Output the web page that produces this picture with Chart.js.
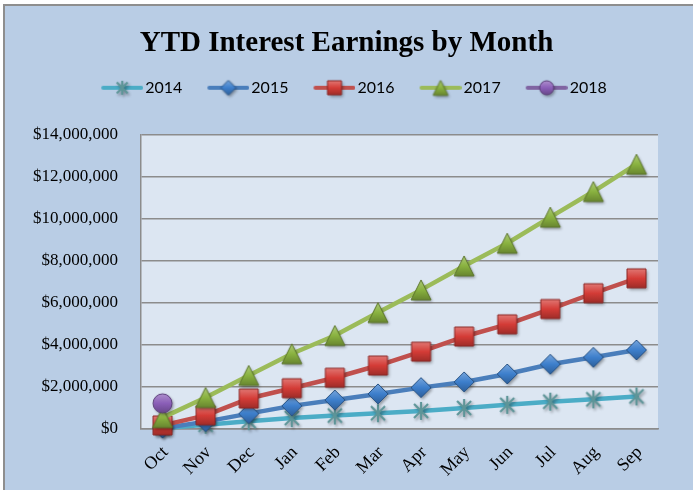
<!DOCTYPE html>
<html><head><meta charset="utf-8">
<script src="https://cdn.jsdelivr.net/npm/chart.js@4.4.1/dist/chart.umd.min.js"></script>
<style>
html,body{margin:0;padding:0;background:#fff;width:693px;height:490px;overflow:hidden;}
#frame{position:absolute;left:3px;top:4px;width:720px;height:520px;background:#b9cde5;border-left:2px solid #8e8e8e;border-top:2px solid #8e8e8e;}
#c{position:absolute;left:0;top:0;}
</style></head><body>
<div id="frame"></div>
<canvas id="c" width="693" height="490"></canvas>
<script>
// ---- data ----
const categories = ['Oct','Nov','Dec','Jan','Feb','Mar','Apr','May','Jun','Jul','Aug','Sep'];
const seriesNames = ['2014','2015','2016','2017','2018'];
const ytd2014 = [30000, 200000, 370000, 520000, 640000, 750000, 860000, 1000000, 1150000, 1300000, 1410000, 1550000];
const ytd2015 = [40000, 350000, 730000, 1100000, 1380000, 1670000, 1970000, 2240000, 2620000, 3080000, 3410000, 3760000];
const ytd2016 = [170000, 650000, 1450000, 1940000, 2440000, 3020000, 3680000, 4400000, 4980000, 5710000, 6460000, 7170000];
const ytd2017 = [540000, 1500000, 2550000, 3580000, 4450000, 5540000, 6620000, 7760000, 8840000, 10080000, 11300000, 12600000];
const ytd2018 = [1220000, null, null, null, null, null, null, null, null, null, null, null];
const yMax = 14000000;
const yStep = 2000000;

// ---- styles ----
const lineColors = ['#4bacc6','#4a7ebb','#c0504d','#9bbb59','#8064a2'];
const markerColors = ['#5e9598','#3d7fcc','#d43c37','#8ab340','#8b5fb8'];
const markerShapes = ['star','diamond','square','triangle','circle'];
const markerSizes = [18,20,19,20,19];
const legendMarkerSizes = [14,15,14,15,14];

function shade(hex, f){
  const n=parseInt(hex.slice(1),16); let r=n>>16,g=(n>>8)&255,b=n&255;
  const t=f<0?0:255, p=Math.abs(f);
  r=Math.round((t-r)*p+r); g=Math.round((t-g)*p+g); b=Math.round((t-b)*p+b);
  return 'rgb('+r+','+g+','+b+')';
}
function makeMarker(shape, color, size){
  const pad=6, S=Math.ceil(size+pad*2);
  const c=document.createElement('canvas'); c.width=S; c.height=S;
  const x=c.getContext('2d'); const cx=S/2, cy=S/2, h=size/2;
  x.shadowColor='rgba(0,0,0,0.35)'; x.shadowBlur=3; x.shadowOffsetX=1.5; x.shadowOffsetY=2;
  x.beginPath();
  if(shape==='star'){
    const d=h*0.78;
    x.moveTo(cx,cy-h); x.lineTo(cx,cy+h);
    x.moveTo(cx-d,cy-d); x.lineTo(cx+d,cy+d);
    x.moveTo(cx+d,cy-d); x.lineTo(cx-d,cy+d);
    x.strokeStyle=color; x.lineWidth=2.2; x.stroke();
    return c;
  }
  if(shape==='square'){ x.rect(cx-h,cy-h,size,size); }
  else if(shape==='diamond'){ x.moveTo(cx,cy-h); x.lineTo(cx+h,cy); x.lineTo(cx,cy+h); x.lineTo(cx-h,cy); x.closePath(); }
  else if(shape==='triangle'){ x.moveTo(cx,cy-h); x.lineTo(cx+h,cy+h); x.lineTo(cx-h,cy+h); x.closePath(); }
  else { x.arc(cx,cy,h,0,Math.PI*2); }
  const g=x.createLinearGradient(0,cy-h,0,cy+h);
  g.addColorStop(0,shade(color,0.3)); g.addColorStop(0.5,color); g.addColorStop(1,shade(color,-0.25));
  x.fillStyle=g; x.fill();
  x.shadowColor='transparent'; x.strokeStyle=shade(color,-0.35); x.lineWidth=1; x.stroke();
  return c;
}
function makeLegendIcon(i){
  const W=63,H=24; const c=document.createElement('canvas'); c.width=W; c.height=H;
  const x=c.getContext('2d');
  x.strokeStyle=lineColors[i]; x.lineWidth=4; x.lineCap='round';
  x.beginPath(); x.moveTo(23,H/2); x.lineTo(61,H/2); x.stroke();
  const m=makeMarker(markerShapes[i], markerColors[i], legendMarkerSizes[i]);
  x.drawImage(m, 42-m.width/2, H/2-m.height/2);
  return c;
}

const plotBg = { id:'plotBg', beforeDraw(chart){ const {ctx, chartArea:a}=chart; ctx.save(); ctx.fillStyle='#dce6f2'; ctx.fillRect(a.left,a.top,a.right-a.left,a.bottom-a.top); ctx.restore(); } };

function draw(){
  const seriesData = [ytd2014, ytd2015, ytd2016, ytd2017, ytd2018];
  const markers = seriesData.map((_,i)=>makeMarker(markerShapes[i], markerColors[i], markerSizes[i]));
  const legendIcons = seriesData.map((_,i)=>makeLegendIcon(i));
  const datasets = seriesData.map((d,i)=>({
    label: seriesNames[i], data: d,
    borderColor: lineColors[i], backgroundColor: lineColors[i],
    borderWidth: 4.5, pointStyle: markers[i], pointRadius: 10, pointHoverRadius: 10,
    tension: 0, clip: false, fill: false, borderCapStyle: 'round', borderJoinStyle: 'round',
    order: 5 - i
  }));
  const serif = '"Liberation Serif", "Times New Roman", serif';
  new Chart(document.getElementById('c'), {
    type: 'line',
    data: { labels: categories, datasets },
    options: {
      responsive: false, animation: false, devicePixelRatio: 1,
      events: [],
      layout: { padding: { top: 10, left: 0, right: 0, bottom: 0 } },
      plugins: {
        title: { display: true, text: 'YTD Interest Earnings by Month', color: '#000',
          font: { family: serif, size: 29, weight: 'bold', lineHeight: 1.2 }, padding: { top: 16, bottom: 9 } },
        subtitle: { display: true, text: ' ', weight: 500, font: { size: 10, lineHeight: 1.2 }, padding: { top: 9, bottom: 8 } },
        legend: { display: true, position: 'top', weight: 1000,
          labels: { usePointStyle: true, pointStyleWidth: 51, padding: 10, color: '#000',
            font: { family: 'Lato, "Noto Sans", sans-serif', size: 16 },
            sort: (a,b)=>a.text.localeCompare(b.text),
            generateLabels(chart){
              const items = Chart.defaults.plugins.legend.labels.generateLabels(chart);
              items.forEach(it=>{ it.pointStyle = legendIcons[it.datasetIndex]; });
              return items;
            } } },
        tooltip: { enabled: false }
      },
      scales: {
        x: { type: 'category', offset: true,
          grid: { display: false, drawTicks: false },
          border: { display: true, color: '#8c8c8c', width: 1.5 },
          ticks: { minRotation: 45, maxRotation: 45, autoSkip: false, padding: 13, labelOffset: 3, color: '#000',
            font: { family: serif, size: 18 } },
          afterFit(s){ s.height = 61; } },
        y: { min: 0, max: yMax,
          ticks: { stepSize: yStep, padding: 23, color: '#000', font: { family: serif, size: 17 },
            callback: v => '$' + Number(v).toLocaleString('en-US') },
          grid: { color: '#8c8c8c', lineWidth: 1.5, drawTicks: false },
          border: { display: true, color: '#8c8c8c', width: 1.5 },
          afterFit(s){ s.width = 141; } },
        yr: { type: 'linear', position: 'right', display: true,
          grid: { display: false, drawTicks: false }, border: { display: false }, ticks: { display: false },
          afterFit(s){ s.width = 35; } }
      }
    },
    plugins: [plotBg]
  });
}
const fontLoads = ['16px Lato','bold 29px "Liberation Serif"','16px "Liberation Serif"'].map(f=>document.fonts.load(f));
Promise.all(fontLoads).then(draw, draw);
</script>
</body></html>
